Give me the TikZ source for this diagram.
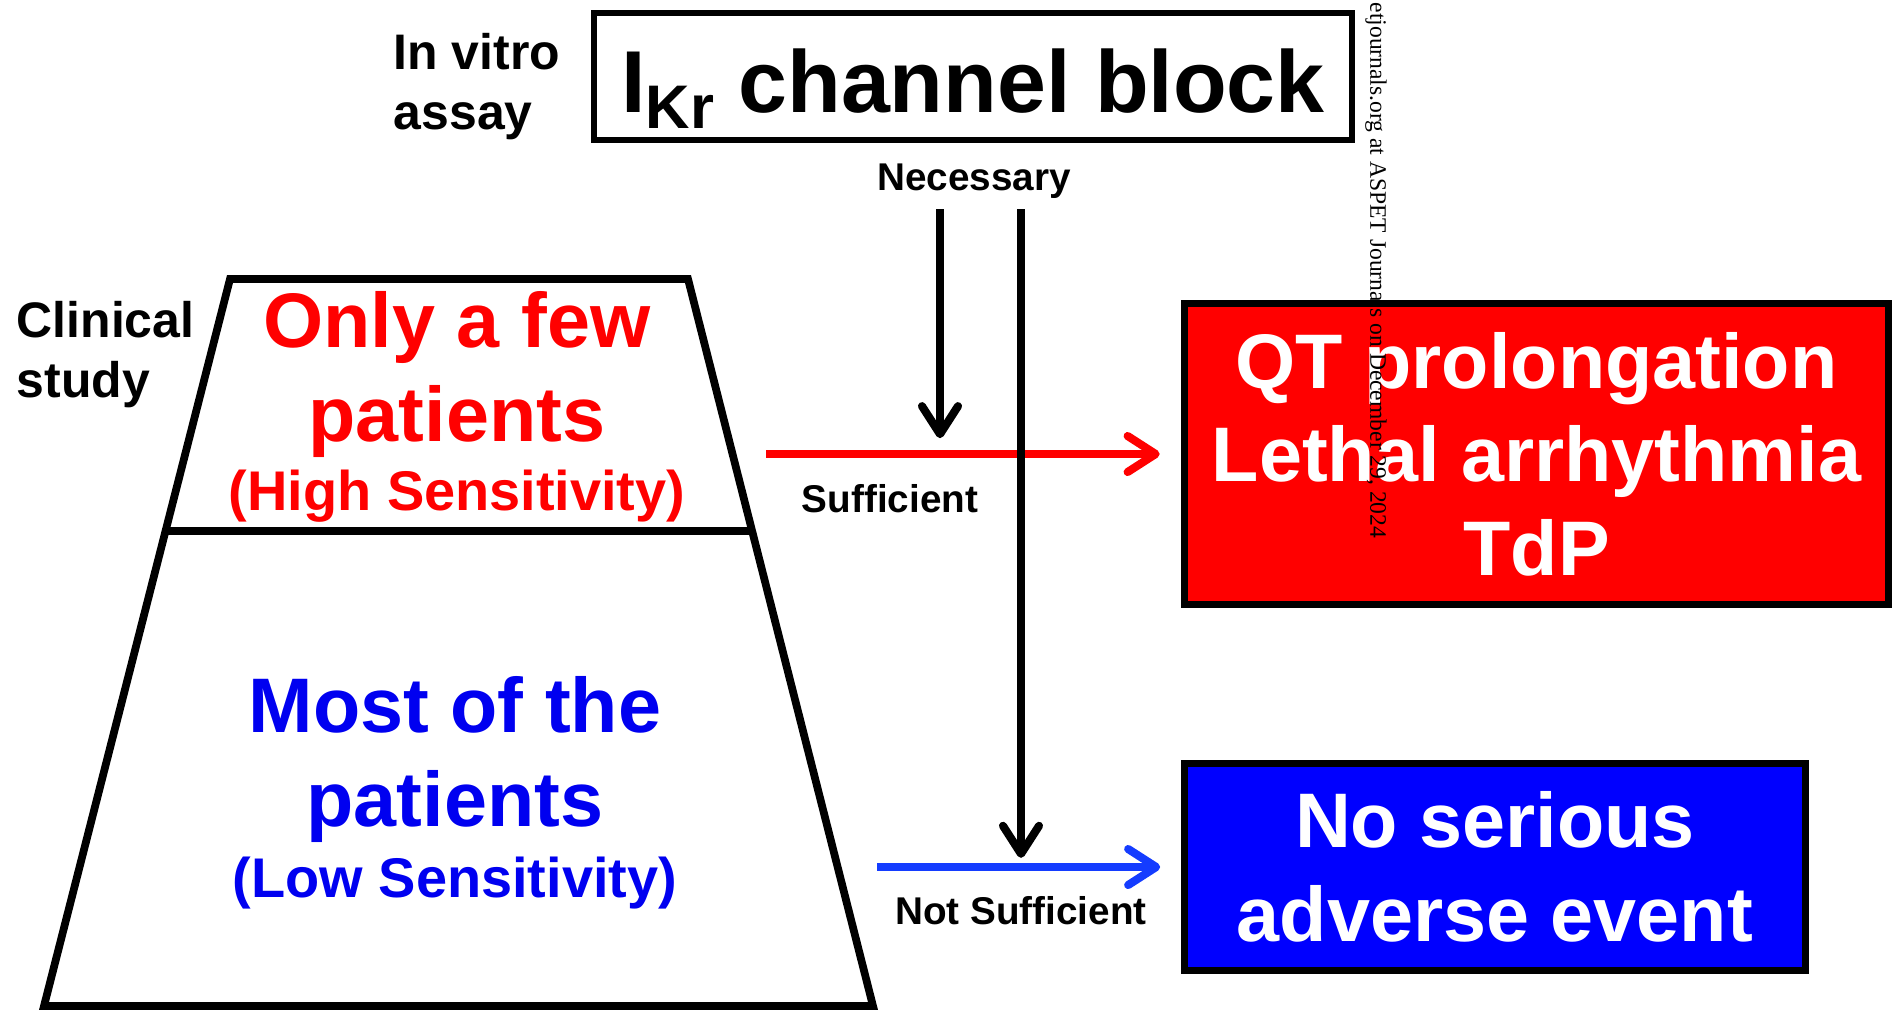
\documentclass[tikz,border=0pt]{standalone}
\usepackage{fontspec}
\setmainfont{Liberation Sans}
\newfontfamily\wmfont{Liberation Serif}
\usetikzlibrary{arrows.meta,calc}
\definecolor{fewred}{RGB}{255,0,0}
\definecolor{mostblue}{RGB}{0,0,240}
\definecolor{boxblue}{RGB}{0,0,255}
\definecolor{linkblue}{RGB}{20,60,255}
\tikzset{every node/.style={font=\bfseries, inner sep=0pt},
    big/.style={font=\bfseries\fontsize{22}{26.6}\selectfont, align=center},
    side/.style={font=\bfseries\fontsize{14.2}{17}\selectfont, align=left},
    tag/.style={font=\bfseries\fontsize{11}{13}\selectfont},
    sens/.style={font=\bfseries\fontsize{15.9}{19}\selectfont},
    outcome/.style={big, draw=black, line width=2pt, text=white},
    link/.style={line width=2.3pt, -{Straight Barb[length=2.8mm,width=3.6mm,round]}},
    }

\begin{document}
\begin{tikzpicture}[x=0.01cm,y=-0.01cm]
\useasboundingbox (0,0) rectangle (1894,1014);
% assay
\node[draw, line width=1.7pt, minimum width=7.58cm, minimum height=1.27cm,
    font=\bfseries\fontsize{25}{30}\selectfont, text height=20.2pt, text depth=0pt]
    (ikr) at (973,76.5) {I\raisebox{-4.8pt}{\fontsize{17.5}{18}\selectfont Kr} channel block};
\node[side, anchor=north west] (vitro) at (393,33) {In vitro\\assay};
\node[tag, anchor=base] (nec) at (974,190) {Necessary};
% clinical study
\coordinate (tl) at (230,279);
\coordinate (tr) at (688,279);
\coordinate (br) at (873,1006);
\coordinate (bl) at (44,1006);
\draw[line width=2.2pt] (tl) -- (tr) -- (br) -- (bl) -- cycle;
\draw[line width=2.2pt] ($(tl)!0.3466!(bl)$) -- ($(tr)!0.3466!(br)$);
\node[side, anchor=north west] (clin) at (16,301) {Clinical\\study};
\node[big, text=fewred, anchor=north] (few) at (457,291) {Only a few\\patients};
\node[sens, text=fewred, anchor=base] (high) at (457,510) {(High Sensitivity)};
\node[big, text=mostblue, anchor=north] (most) at (455,676) {Most of the\\patients};
\node[sens, text=mostblue, anchor=base] (low) at (455,897) {(Low Sensitivity)};
% outcomes
\node[outcome, fill=fewred, minimum width=7.04cm, minimum height=3.01cm]
    (qt) at (1536.5,454) {QT prolongation\\Lethal arrhythmia\\TdP};
\node[outcome, fill=boxblue, minimum width=6.2cm, minimum height=2.07cm]
    (ns) at (1495,867) {No serious\\adverse event};
% links
\coordinate (hs) at (766,454);
\coordinate (ls) at (877,867);
\coordinate (n1) at (940,209);
\coordinate (n2) at (1021,209);
\draw[link, fewred, shorten >=6pt] (hs) -- (hs -| qt.west);
\draw[link, linkblue, shorten >=6pt] (ls) -- (ls -| ns.west);
\draw[link, shorten >=4.5pt] (n1) -- (n1 |- hs);
\draw[link, shorten >=2.6pt] (n2) -- (n2 |- ls);
\node[tag, anchor=base] (suf) at (890,512) {Sufficient};
\node[tag, anchor=base] (nsuf) at (1021,924) {Not Sufficient};
% watermark
\node[font=\wmfont\fontsize{6.7}{8}\selectfont, rotate=-90, anchor=west]
    (wm) at (1376,2) {etjournals.org at ASPET Journals on December 29, 2024};
\end{tikzpicture}
\end{document}
